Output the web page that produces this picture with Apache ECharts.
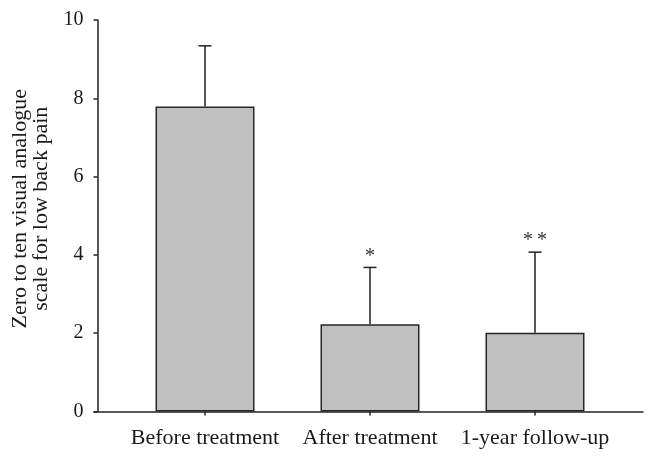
<!DOCTYPE html>
<html>
<head>
<meta charset="utf-8">
<script src="https://cdn.jsdelivr.net/npm/echarts@6/dist/echarts.min.js"></script>
<style>
  html, body { margin: 0; background: #fff; }
  #chart { width: 657px; height: 461px; }
</style>
</head>
<body>
<div id="chart"></div>
<script>
// values
const categories = ['Before treatment', 'After treatment', '1-year follow-up'];
const means = [7.79, 2.23, 2.01];
const errorTops = [9.34, 3.68, 4.07];
const marks = ['', '*', '**'];
const yTicks = [0, 2, 4, 6, 8, 10];

const FONT = '"Liberation Serif", "Times New Roman", serif';
const INK = '#222';

const chart = echarts.init(document.getElementById('chart'));

const option = {
  animation: false,
  grid: [
    { left: 122.5, right: 39.5, top: 20, bottom: 49.5 },
    // only used to draw the longer x axis line
    { left: 94, right: 14, top: 20, bottom: 49.5 },
  ],
  xAxis: [
    {
      type: 'category',
      data: categories,
      axisLine: { show: false },
      axisTick: { show: true, alignWithLabel: true, length: 4, lineStyle: { color: INK, width: 1.5 } },
      axisLabel: { interval: 0, fontFamily: FONT, fontSize: 22, color: '#1a1a1a', margin: 16 },
    },
    {
      type: 'value',
      gridIndex: 1,
      min: 0,
      max: 1,
      axisLine: { show: true, lineStyle: { color: INK, width: 1.5 } },
      axisTick: { show: false },
      axisLabel: { show: false },
      splitLine: { show: false },
    },
  ],
  yAxis: [
    {
      type: 'value',
      min: yTicks[0],
      max: yTicks[yTicks.length - 1],
      interval: yTicks[1] - yTicks[0],
      offset: 25,
      axisLine: { show: true, lineStyle: { color: INK, width: 1.5 } },
      axisTick: { show: true, length: 4, lineStyle: { color: INK, width: 1.5 } },
      axisLabel: { fontFamily: FONT, fontSize: 20, color: '#1a1a1a', margin: 14 },
      splitLine: { show: false },
      name: 'Zero to ten visual analogue\nscale for low back pain',
      nameLocation: 'middle',
      nameRotate: 90,
      nameGap: 39,
      nameTextStyle: { fontFamily: FONT, fontSize: 22, lineHeight: 21, color: '#1a1a1a', padding: [0, 0, 0, 14] },
    },
    { type: 'value', gridIndex: 1, show: false, min: 0, max: 1 },
  ],
  series: [
    {
      type: 'bar',
      data: means,
      barWidth: '60%',
      itemStyle: { color: '#c0c0c0', borderColor: '#262626', borderWidth: 1.5 },
    },
    {
      type: 'custom',
      z: 5,
      data: categories.map((c, i) => [i, means[i], errorTops[i]]),
      renderItem: function (params, api) {
        const i = params.dataIndex;
        const base = api.coord([api.value(0), api.value(1)]);
        const top = api.coord([api.value(0), api.value(2)]);
        const lineStyle = { stroke: INK, lineWidth: 1.5 };
        const children = [
          { type: 'line', shape: { x1: base[0], y1: base[1], x2: top[0], y2: top[1] }, style: lineStyle },
          { type: 'line', shape: { x1: top[0] - 6.5, y1: top[1], x2: top[0] + 6.5, y2: top[1] }, style: lineStyle },
        ];
        if (marks[i]) {
          children.push({
            type: 'text',
            x: top[0],
            y: top[1] - 1,
            style: {
              text: marks[i].split('').join('\u2009'),
              font: '20px ' + FONT,
              fill: '#333',
              textAlign: 'center',
              textVerticalAlign: 'bottom',
            },
          });
        }
        return { type: 'group', children: children };
      },
    },
  ],
};

chart.setOption(option);
</script>
</body>
</html>
